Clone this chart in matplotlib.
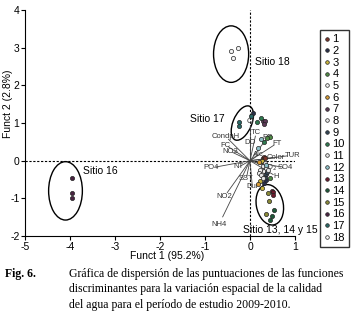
import numpy as np
import matplotlib.pyplot as plt
from matplotlib.patches import Ellipse
from matplotlib.lines import Line2D

plt.rcParams['font.family'] = ['Liberation Sans', 'DejaVu Sans']
plt.rcParams['axes.unicode_minus'] = False

# ---- discriminant scores (site, funct1, funct2) ----
site = [1, 1, 1, 2, 2, 2, 3, 3, 3, 4, 4, 4, 5, 5, 5, 6, 6, 6,
        7, 7, 7, 8, 8, 8, 9, 9, 9, 10, 10, 10, 11, 11, 11, 12, 12, 12,
        13, 13, 13, 14, 14, 14, 15, 15, 15, 16, 16, 16, 17, 17, 17, 18, 18, 18]
f1 = [0.28, 0.31, 0.34, 0.06, 0.31, 0.36, 0.26, 0.22, 0.26, 0.44, 0.38, 0.44,
      0.22, 0.30, 0.20, 0.21, 0.18, 0.30, 0.28, 0.33, 0.30, 0.24, 0.28, 0.35,
      0.33, 0.36, 0.38, 0.24, 0.15, 0.30, 0.33, 0.28, 0.40, 0.18, 0.24, 0.36,
      0.48, 0.52, 0.50, 0.44, 0.53, 0.48, 0.36, 0.41, 0.43, -3.95, -3.95, -3.95,
      -0.24, -0.24, 0.02, -0.42, -0.27, -0.37]
f2 = [0.06, 0.09, 0.07, 1.27, -0.59, -0.50, -0.02, -0.55, -0.72, 0.64, 0.60, -0.46,
      -0.24, -0.28, -0.32, -0.03, -0.62, -0.10, 1.06, 1.06, 0.98, -0.37, -0.15, -0.20,
      -0.42, -0.35, -0.30, 1.13, 1.03, 0.51, -0.06, -0.45, -0.25, 0.34, 0.58, -0.12,
      -0.81, -0.84, -0.90, -1.57, -1.30, -1.48, -1.41, -0.86, -1.08, -0.45, -0.85, -1.00,
      1.02, 0.91, 1.18, 2.90, 2.98, 2.72]

site_colors = ['#7a3328', '#2a3048', '#c9b43a', '#4f8a45', '#f0f0f0', '#d69a35',
               '#5e3a58', '#e8e8e8', '#334555', '#2f7a50', '#e4e4e4', '#8fc0c8',
               '#6e1a2e', '#1f5a3a', '#8a8a38', '#4a2442', '#2a6a68', '#f4f4f4']

# ---- variable loadings (structure vectors) ----
vec_names = ['NH4', 'NO2', 'PO4', 'NT', 'SST', 'Dur', 'SO4', 'O$_2$', 'Color', 'TUR',
             'FT', 'PP', 'TC', 'DO', 'Cl', 'CondpH', 'FC', 'NO3', 'Alc', 'H']
vec_x = [-0.66, -0.55, -0.82, -0.24, -0.08, 0.05, 0.74, 0.46, 0.55, 0.90,
         0.58, 0.38, 0.13, 0.00, 0.00, -0.52, -0.52, -0.42, 0.18, 0.56]
vec_y = [-1.62, -0.92, -0.18, -0.16, -0.46, -0.66, -0.18, -0.18, 0.09, 0.14,
         0.45, 0.60, 0.71, 0.47, 1.00, 0.62, 0.40, 0.24, 0.17, -0.40]

fig = plt.figure(figsize=(3.55, 3.19), dpi=100)
ax = fig.add_axes([0.0704, 0.260, 0.7606, 0.7085])

# vectors
for name, vx, vy in zip(vec_names, vec_x, vec_y):
    ax.plot([0, vx * 0.92], [0, vy * 0.92], color='#444444', lw=0.6, zorder=2)
    ax.text(vx * 1.05, vy * 1.04, name, fontsize=5.5, color='#333333',
            ha='center', va='center', zorder=3)

ax.axvline(0, color='black', ls=(0, (2, 1.5)), lw=0.8, zorder=1)
ax.axhline(0, color='black', ls=(0, (2, 1.5)), lw=0.8, zorder=1)

for s, x, y in zip(site, f1, f2):
    ax.scatter(x, y, s=9, color=site_colors[s - 1], edgecolor='#222222',
               linewidth=0.5, zorder=4)

# group ellipses
ax.add_patch(Ellipse((-4.1, -0.8), 0.75, 1.55, fill=False, lw=1.0, ec='black'))
ax.add_patch(Ellipse((-0.42, 2.83), 0.78, 1.5, fill=False, lw=1.0, ec='black'))
ax.add_patch(Ellipse((-0.17, 1.0), 0.42, 0.95, angle=-18, fill=False, lw=1.0, ec='black'))
ax.add_patch(Ellipse((0.44, -1.17), 0.6, 1.08, angle=8, fill=False, lw=1.0, ec='black'))

ax.text(0.1, 2.63, 'Sitio 18', fontsize=7.5, ha='left', va='center')
ax.text(-1.33, 1.12, 'Sitio 17', fontsize=7.5, ha='left', va='center')
ax.text(-3.7, -0.27, 'Sitio 16', fontsize=7.5, ha='left', va='center')
ax.text(-0.15, -1.85, 'Sitio 13, 14 y 15', fontsize=7.5, ha='left', va='center')

ax.set_xlim(-5, 1)
ax.set_ylim(-2, 4)
ax.set_xticks(range(-5, 2))
ax.set_yticks(range(-2, 5))
ax.spines['top'].set_visible(False)
ax.spines['right'].set_visible(False)
ax.tick_params(labelsize=7.5, length=3, width=0.8, pad=1)
ax.set_xlabel('Funct 1 (95.2%)', fontsize=7.5)
ax.set_ylabel('Funct 2 (2.8%)', fontsize=7.5)
ax.xaxis.set_label_coords(0.526, -0.068)
ax.yaxis.set_label_coords(-0.045, 0.584)

handles = [Line2D([], [], marker='o', ls='', ms=2.6, color=c, mec='#222222', mew=0.5)
           for c in site_colors]
leg = fig.legend(handles, [str(i) for i in range(1, 19)], loc='upper left',
                 bbox_to_anchor=(0.902, 0.906), fontsize=8, frameon=True,
                 handlelength=0.4, handletextpad=0.3, labelspacing=0.15,
                 borderpad=0.4, borderaxespad=0, fancybox=False)
leg.get_frame().set_edgecolor('black')
leg.get_frame().set_linewidth(1.0)

# caption
base = 0.132
fig.text(0.014, base, 'Fig. 6.', fontsize=8.5, fontweight='bold',
         family='Liberation Serif', va='baseline')
cap_lines = ['Gráfica de dispersión de las puntuaciones de las funciones',
             'discriminantes para la variación espacial de la calidad',
             'del agua para el período de estudio 2009-2010.']
for i, line in enumerate(cap_lines):
    fig.text(0.194, base - i * 0.0486, line, fontsize=8.5,
             family='Liberation Serif', va='baseline')

fig.savefig('out.png', dpi=100)
